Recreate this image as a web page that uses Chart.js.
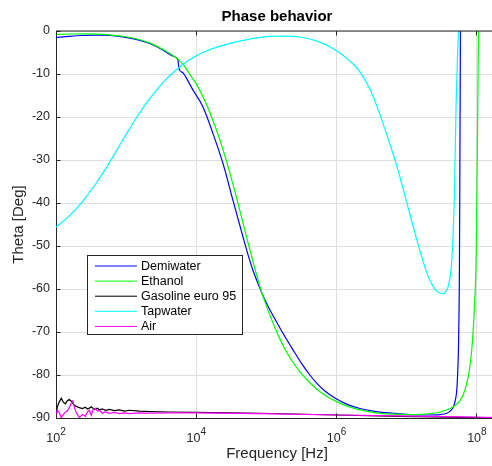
<!DOCTYPE html>
<html>
<head>
<meta charset="utf-8">
<script src="https://cdn.jsdelivr.net/npm/chart.js@4.4.0/dist/chart.umd.min.js"></script>
<style>
  html, body { margin: 0; padding: 0; background: #fff; overflow: hidden; }
  canvas { display: block; }
</style>
</head>
<body>
<canvas id="phase" width="498" height="466"></canvas>
<script>
const seriesNames = ["Demiwater", "Ethanol", "Gasoline euro 95", "Tapwater", "Air"];
const seriesColors = ["#0000ff", "#00ff00", "#000000", "#00ffff", "#ff00ff"];
//Ticks on the frequency axis
const xTickValues = [1e2, 1e4, 1e6, 1e8];

//Demiwater
const demiFreq = [100, 155, 240, 373, 577, 893, 1389, 2154, 3334, 4585, 5458, 5680, 6440, 7030, 8940, 12420, 17250,
  23990, 33340, 46340, 54580, 64420, 80170, 104400, 138900, 182300, 239900, 316200, 415900, 540700, 703000, 1e6, 1.449e6,
  2.154e6, 3.64e6, 6.44e6, 1.114e7, 1.93e7, 2.99e7, 3.73e7, 4.16e7, 4.63e7, 4.98e7, 5.18e7, 5.37e7, 5.46e7, 5.64e7,
  5.83e7, 6.07e7];
const demiTheta = [-1.55, -1.25, -1.05, -0.98, -1.02, -1.35, -1.95, -2.9, -4.4, -5.8, -6.7, -8.8, -9.7, -10.6, -13.7, -17.6,
  -23.8, -30.8, -39.4, -47.9, -52.0, -55.7, -59.7, -63.9, -67.6, -71.0, -74.2, -77.3, -80.0, -82.2, -83.9, -85.6, -86.9,
  -87.8, -88.5, -88.9, -89.2, -89.3, -89.2, -88.9, -88.4, -87.4, -85.5, -83.3, -78, -74, -55, 0, 30];

//Ethanol
const ethFreq = [100, 155, 240, 373, 577, 893, 1389, 2154, 3334, 4585, 5458, 6590, 8020, 1e4, 11150, 13900, 17250, 20370,
  25350, 30400, 37280, 45080, 54580, 68040, 80170, 104400, 138900, 182300, 239900, 316200, 415900, 540700, 703000, 1e6,
  1.449e6, 2.154e6, 3.64e6, 6.44e6, 1.114e7, 1.825e7, 2.99e7, 4.16e7, 5.06e7, 5.77e7, 6.59e7, 7.4e7, 8.02e7, 8.71e7,
  9.3e7, 9.78e7, 1.026e8, 1.054e8, 1.096e8];
const ethTheta = [-0.8, -0.7, -0.68, -0.72, -0.88, -1.22, -1.8, -2.75, -4.25, -5.65, -6.55, -7.9, -10.0, -12.3, -13.7, -17.0,
  -20.8, -24.0, -28.8, -33.3, -38.6, -43.9, -49.2, -55.1, -59.3, -64.8, -69.8, -73.9, -77.1, -79.7, -81.8, -83.5, -84.8,
  -86.2, -87.3, -88.1, -88.8, -89.1, -89.2, -89.1, -88.6, -87.8, -86.9, -85.9, -84.0, -81.0, -77.6, -71.5, -63, -52, -20,
  0, 30];

//Gasoline euro 95
const gasFreq = [100, 104, 111, 119, 127, 136, 145, 155, 165, 174, 183, 195, 215, 238, 262, 280, 299, 319, 352, 389, 416,
  458, 506, 577, 681, 802, 946, 1115, 1549, 2154, 4160, 10000, 80170, 1.0e6, 7.9e6, 1.0e8, 2.0e8];
const gasTheta = [-90, -87.5, -86.3, -85.4, -86.3, -86.7, -86.0, -85.7, -86.1, -86.6, -87.0, -87.3, -87.6, -87.8, -87.5, -87.9,
  -87.7, -87.4, -88.0, -87.7, -88.1, -87.9, -88.2, -88.0, -88.3, -88.1, -88.4, -88.2, -88.4, -88.5, -88.6, -88.7, -88.9,
  -89.3, -89.6, -89.9, -90];

//Tapwater
const tapFreq = [100, 155, 240, 373, 577, 893, 1389, 2154, 3334, 5179, 8020, 12420, 19300, 46340, 111400, 182300, 299200,
  576800, 1e6, 1.55e6, 2.15e6, 2.99e6, 4.16e6, 5.41e6, 7.2e6, 1e7, 1.39e7, 1.93e7, 2.46e7, 2.8e7, 3.27e7, 3.64e7, 4.02e7,
  4.39e7, 4.75e7, 5.06e7, 5.32e7, 5.46e7, 5.77e7];
const tapTheta = [-45.6, -43.0, -39.6, -35.4, -30.6, -25.4, -20.3, -15.8, -12.0, -9.0, -6.7, -5.0, -3.8, -2.2, -1.25, -1.2,
  -1.4, -2.6, -4.6, -7.0, -9.5, -13.5, -19.5, -25, -31.3, -39.9, -48.5, -56.2, -59.8, -60.7, -61.1, -60.5, -58.5,
  -53.5, -40, -17, -5, 0, 20];

//Air
const airFreq = [100, 104, 111, 119, 127, 136, 145, 155, 165, 174, 183, 195, 215, 238, 262, 280, 299, 319, 338, 363, 389, 416,
  458, 506, 577, 681, 802, 946, 1115, 1549, 2154, 4160, 10000, 80170, 1.0e6, 7.9e6, 1.0e8, 2.0e8];
const airTheta = [-90, -88.2, -88.7, -89.9, -89.2, -88.6, -88.4, -87.6, -86.5, -86.0, -87.6, -88.8, -89.9, -89.2, -89.6,
  -88.6, -88.2, -89.4, -88.0, -87.8, -88.4, -88.2, -88.9, -88.6, -88.9, -88.7, -89.0, -88.8, -89.0, -88.8, -88.9, -88.8,
  -88.8, -89.0, -89.3, -89.5, -89.8, -89.9];

const seriesFreq = [demiFreq, ethFreq, gasFreq, tapFreq, airFreq];
const seriesTheta = [demiTheta, ethTheta, gasTheta, tapTheta, airTheta];
const smoothSeries = [true, true, false, true, false];

Chart.defaults.font.family = "'Liberation Sans', Arial, Helvetica, sans-serif";

//MATLAB-like details: box top line, inward ticks, 10^n labels, legend inside the axes
const matlabAxes = {
  id: "matlabAxes",
  afterDraw(chart) {
    const ctx = chart.ctx;
    const area = chart.chartArea;
    const xs = chart.scales.x;
    const ys = chart.scales.y;
    ctx.save();
    ctx.strokeStyle = "#262626";
    ctx.lineWidth = 1;
    ctx.beginPath();
    ctx.moveTo(area.left, area.top);
    ctx.lineTo(area.right, area.top);
    ctx.stroke();
    //inward ticks
    ctx.beginPath();
    for (const t of xs.ticks) {
      const px = Math.floor(xs.getPixelForValue(t.value)) + 0.5;
      ctx.moveTo(px, area.bottom);
      ctx.lineTo(px, area.bottom - 4.5);
      ctx.moveTo(px, area.top);
      ctx.lineTo(px, area.top + 4.5);
    }
    for (const t of ys.ticks) {
      const py = Math.floor(ys.getPixelForValue(t.value)) + 0.5;
      ctx.moveTo(area.left, py);
      ctx.lineTo(area.left + 4.5, py);
    }
    ctx.stroke();
    //x tick labels as 10 with a raised exponent
    ctx.fillStyle = "#262626";
    ctx.textBaseline = "alphabetic";
    ctx.textAlign = "left";
    for (const t of xs.ticks) {
      const px = xs.getPixelForValue(t.value);
      const base = "10";
      const exp = String(Math.round(Math.log10(t.value)));
      ctx.font = "12.5px 'Liberation Sans', Arial, sans-serif";
      const bw = ctx.measureText(base).width;
      ctx.font = "10px 'Liberation Sans', Arial, sans-serif";
      const ew = ctx.measureText(exp).width;
      const x0 = px - (bw + ew) / 2;
      ctx.font = "12.5px 'Liberation Sans', Arial, sans-serif";
      ctx.fillText(base, x0, area.bottom + 24);
      ctx.font = "10px 'Liberation Sans', Arial, sans-serif";
      ctx.fillText(exp, x0 + bw, area.bottom + 17);
    }
    //legend
    const lx = area.left + 31.5;
    const ly = area.top + 224.5;
    ctx.fillStyle = "#ffffff";
    ctx.fillRect(lx, ly, 155, 79);
    ctx.strokeStyle = "#262626";
    ctx.strokeRect(lx, ly, 155, 79);
    ctx.font = "12.5px 'Liberation Sans', Arial, sans-serif";
    ctx.textBaseline = "middle";
    chart.data.datasets.forEach((ds, i) => {
      const ry = ly + 10.5 + i * 15.1;
      ctx.strokeStyle = ds.borderColor;
      ctx.beginPath();
      ctx.moveTo(lx + 7.5, ry);
      ctx.lineTo(lx + 49.5, ry);
      ctx.stroke();
      ctx.fillStyle = "#000000";
      ctx.fillText(ds.label, lx + 53.5, ry + 0.5);
    });
    ctx.restore();
  },
};

const datasets = seriesNames.map((name, i) => ({
  label: name,
  data: seriesFreq[i].map((f, k) => ({ x: f, y: seriesTheta[i][k] })),
  borderColor: seriesColors[i],
  backgroundColor: seriesColors[i],
  borderWidth: 1.2,
  pointRadius: 0,
  fill: false,
  tension: smoothSeries[i] ? 0.4 : 0,
  cubicInterpolationMode: smoothSeries[i] ? "monotone" : "default",
  order: seriesNames.length - i,
}));

new Chart(document.getElementById("phase"), {
  type: "line",
  data: { datasets: datasets },
  plugins: [matlabAxes],
  options: {
    responsive: false,
    animation: false,
    layout: { padding: 0 },
    plugins: {
      legend: { display: false },
      tooltip: { enabled: false },
      title: {
        display: true,
        text: "Phase behavior",
        color: "#000000",
        font: { size: 15, weight: "bold" },
        padding: { top: 8, bottom: 5 },
        fullSize: false,
      },
    },
    scales: {
      x: {
        type: "logarithmic",
        min: 100,
        max: 2e8,
        afterBuildTicks: (scale) => {
          scale.ticks = xTickValues.map((v) => ({ value: v }));
        },
        afterFit: (scale) => {
          scale.height = 48;
        },
        grid: { color: "#dfdfdf", drawTicks: false },
        border: { color: "#262626" },
        ticks: { display: false },
        title: {
          display: true,
          text: "Frequency [Hz]",
          color: "#262626",
          font: { size: 15 },
          padding: { top: 0, bottom: 3 },
        },
      },
      y: {
        min: -90,
        max: 0,
        afterFit: (scale) => {
          scale.width = 56;
        },
        grid: { color: "#dfdfdf", drawTicks: false },
        border: { color: "#262626" },
        ticks: { stepSize: 10, padding: 6, color: "#262626", font: { size: 12.5 } },
        title: {
          display: true,
          text: "Theta [Deg]",
          color: "#262626",
          font: { size: 15 },
          padding: { top: 10, bottom: 0 },
        },
      },
    },
  },
});
</script>
</body>
</html>
